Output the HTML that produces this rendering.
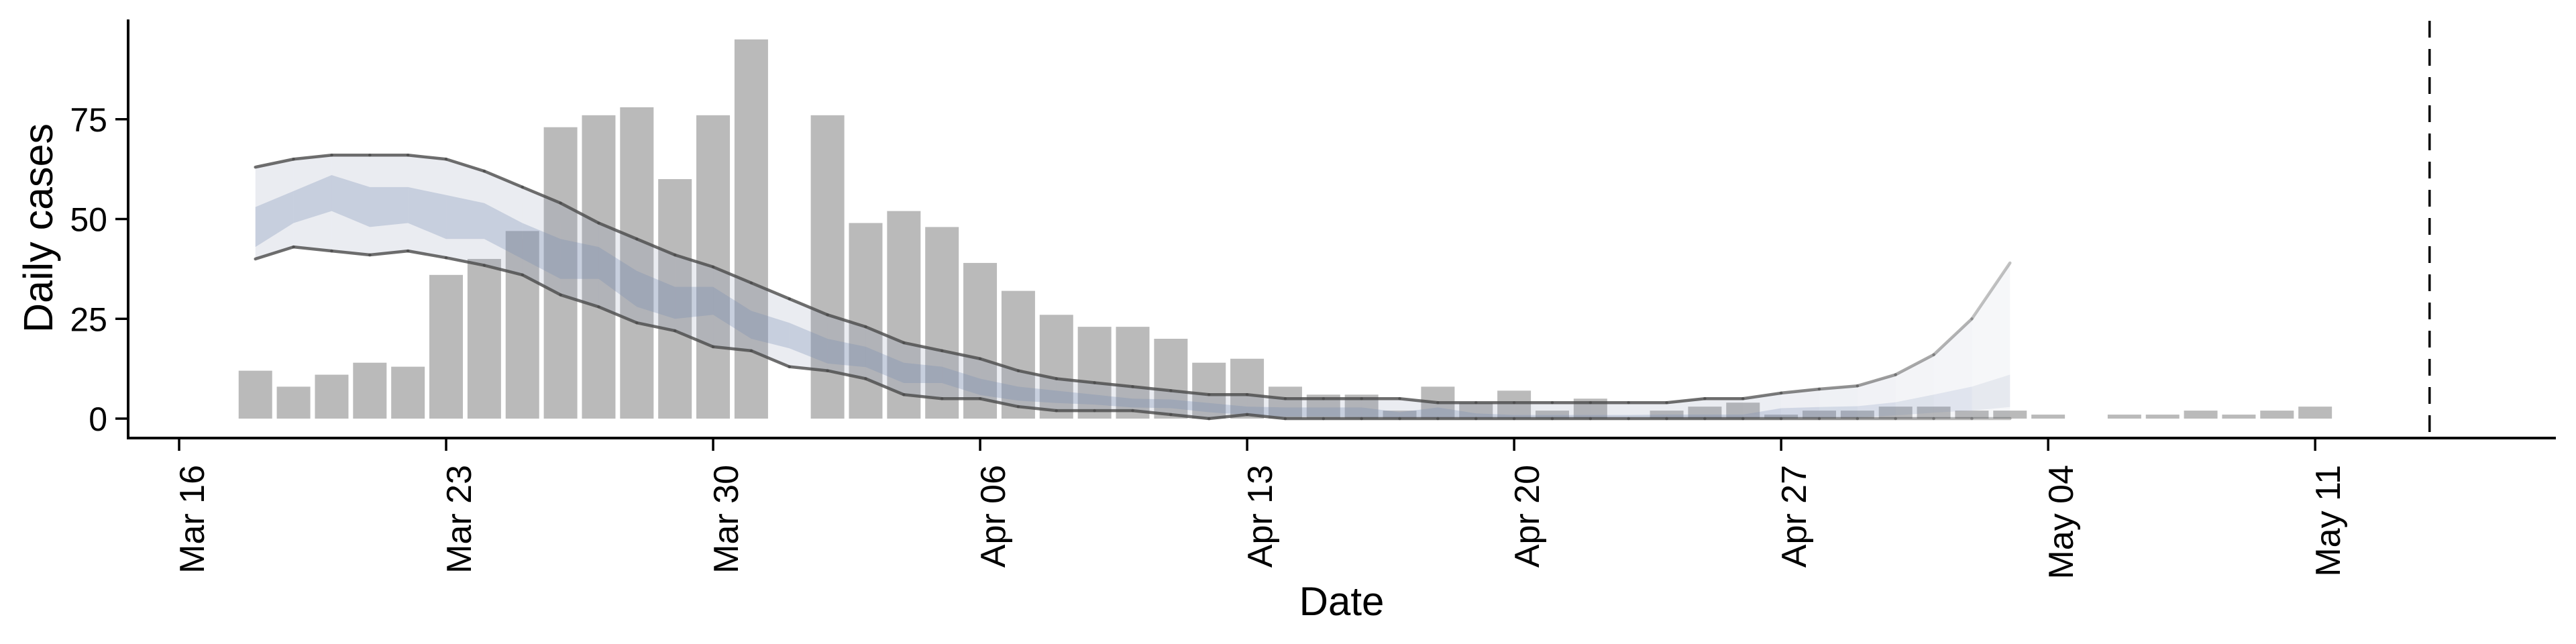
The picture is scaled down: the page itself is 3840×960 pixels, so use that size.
<!DOCTYPE html>
<html><head><meta charset="utf-8"><style>
html,body{margin:0;padding:0;background:#fff;}
svg{display:block;font-family:"Liberation Sans",Arial,sans-serif;}
</style></head><body>
<svg id="chart" width="3840" height="960" viewBox="0 0 3840 960" xmlns="http://www.w3.org/2000/svg">
<g id="bars"></g>
<g id="bands"></g>
<g id="lines"></g>
<g id="axes"></g>
</svg>
<script>
// day index 0 = Mar 16
const barStartDay = 2; // Mar 18
const cases = [12,8,11,14,13,36,40,47,73,76,78,60,76,95,0,76,49,52,48,39,32,26,23,23,20,14,15,8,6,6,2,8,4,7,2,5,0,2,3,4,1,2,2,3,3,2,2,1,0,1,1,2,1,2,3];
const bandStartDay = 2;
const outerUpper = [63,65,66,66,66,65,62,58,54,49,45,41,38,34,30,26,23,19,17,15,12,10,9,8,7,6,6,5,5,5,5,4,4,4,4,4,4,4,5,5,6.4,7.4,8.2,11,16,25,39];
const outerLower = [40,43,42,41,42,40.3,38.4,36,31,28,24,22,18,17,13,12,10,6,5,5,3,2,2,2,1,0,1,0,0,0,0,0,0,0,0,0,0,0,0,0,0,0,0,0,0,0,0];
const innerUpper = [53,57,61,58,58,56,54,49,45,43,37,33,33,27,24,20,18,14,13,10,8,7,6,5,4.8,3.9,3,2.8,2.8,2.8,1.6,2.8,1.3,0.9,0.9,0.9,0.9,1,1,1,2.6,2.9,3.1,4.1,6,8,11];
const innerLower = [43,49,52,48,49,45,45,40,35,35,28,25,26,20,17.6,13.8,12.9,8.9,8.9,5.9,4.5,3.9,3.5,2.8,2.6,1.6,0.9,0.5,0.5,0.4,0.3,0.3,0.3,0.2,0.2,0.2,0.2,0.2,0.2,0.2,0.2,0.2,0.3,0.8,1.5,2,2.9];
const xTickDays = [0,7,14,21,28,35,42,49,56];
const xTickLabels = ["Mar 16","Mar 23","Mar 30","Apr 06","Apr 13","Apr 20","Apr 27","May 04","May 11"];
const yTicks = [0,25,50,75];
const cutoffDay = 59;

const NS="http://www.w3.org/2000/svg";
const X0=267, PXD=56.86, Y0=624, PXU=5.95;
const x=d=>X0+d*PXD;
const y=v=>Y0-v*PXU;
function mk(tag,attrs,parent){const e=document.createElementNS(NS,tag);for(const k in attrs)e.setAttribute(k,attrs[k]);parent.appendChild(e);return e;}
const gB=document.getElementById('bars'),gN=document.getElementById('bands'),gL=document.getElementById('lines'),gA=document.getElementById('axes');

cases.forEach((v,i)=>{
  if(v<=0)return;
  const d=barStartDay+i;
  const r=mk('rect',{x:x(d)-25,y:y(v),width:50,height:v*PXU,fill:'#bababa'},gB);
  
  
});

const n=outerUpper.length;
function fadeOp(i){const end=n-1;const s=end-8;return i<s?1:Math.max(0.35,1-(i-s)/8*0.65);}
for(let i=0;i<n-1;i++){
  const d1=bandStartDay+i,d2=d1+1,op=fadeOp(i);
  const o=mk('polygon',{points:`${x(d1)},${y(outerUpper[i])} ${x(d2)},${y(outerUpper[i+1])} ${x(d2)},${y(outerLower[i+1])} ${x(d1)},${y(outerLower[i])}`,fill:'rgb(140,150,180)','fill-opacity':0.18*op},gN);
  
  
  const p=mk('polygon',{points:`${x(d1)},${y(innerUpper[i])} ${x(d2)},${y(innerUpper[i+1])} ${x(d2)},${y(innerLower[i+1])} ${x(d1)},${y(innerLower[i])}`,fill:'rgb(120,140,180)','fill-opacity':0.3*op},gN);
  
  
  [outerUpper,outerLower].forEach(arr=>{
    const l=mk('line',{x1:x(d1),y1:y(arr[i]),x2:x(d2),y2:y(arr[i+1]),stroke:'#4a4a4a','stroke-width':4.5,'stroke-opacity':0.8*op,'stroke-linecap':'round'},gL);
    
    
  });
}

// axes
let a=mk('line',{x1:191,y1:29,x2:191,y2:654,stroke:'#000','stroke-width':4},gA);


a=mk('line',{x1:189,y1:653,x2:3810,y2:653,stroke:'#000','stroke-width':4},gA);


yTicks.forEach(v=>{
  const t=mk('line',{x1:172,y1:y(v),x2:191,y2:y(v),stroke:'#000','stroke-width':3.5},gA);
  
  
  const tx=mk('text',{x:160,y:y(v)+18,'text-anchor':'end','font-size':50,fill:'#000'},gA);
  tx.textContent=v;
  
  
});
xTickDays.forEach((d,i)=>{
  const t=mk('line',{x1:x(d),y1:653,x2:x(d),y2:672,stroke:'#000','stroke-width':3.5},gA);
  
  
  const tx=mk('text',{x:0,y:0,'text-anchor':'end','font-size':52,fill:'#000',transform:`translate(${x(d)+37},693) rotate(-90)`},gA);
  tx.textContent=xTickLabels[i];
  
  
});
a=mk('line',{x1:x(cutoffDay),y1:31,x2:x(cutoffDay),y2:653,stroke:'#000','stroke-width':3.5,'stroke-dasharray':'25 17'},gA);


a=mk('text',{x:0,y:0,'text-anchor':'middle','font-size':61,fill:'#000',transform:'translate(78,340) rotate(-90)'},gA);
a.textContent='Daily cases';


a=mk('text',{x:2000,y:917,'text-anchor':'middle','font-size':60,fill:'#000'},gA);
a.textContent='Date';


</script>
</body></html>
